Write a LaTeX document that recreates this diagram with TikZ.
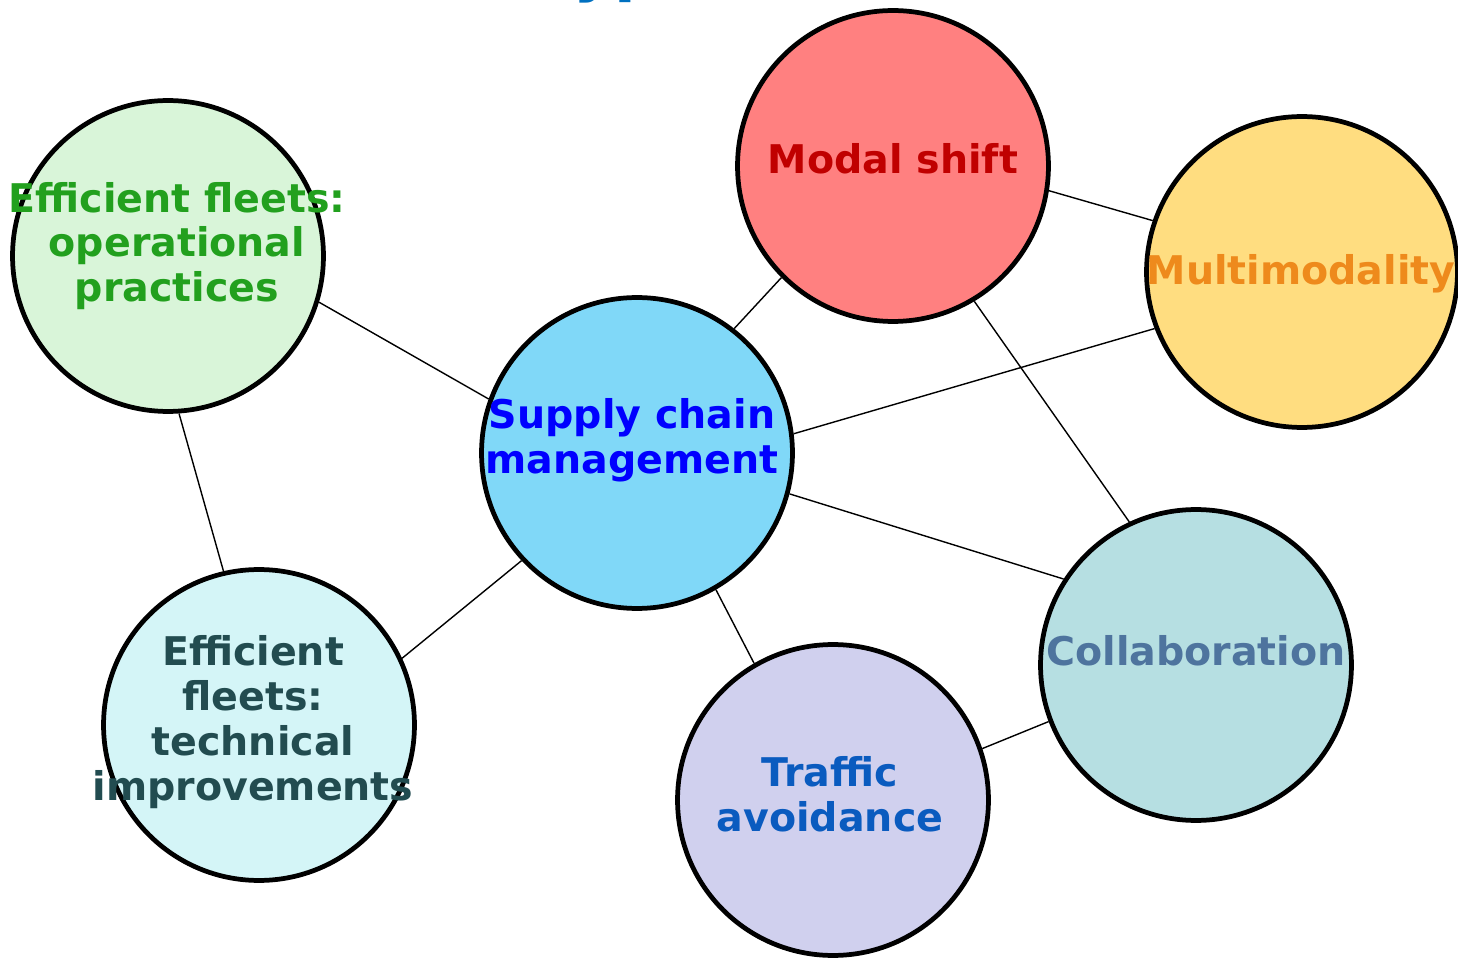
\documentclass[tikz,border=0pt]{standalone}
\usepackage{fontspec}
\setmainfont{DejaVu Sans}
\usepackage{xcolor}
\usepackage{tikz}
\definecolor{titleblue}{HTML}{0070C0}
\definecolor{scmfill}{HTML}{80D8F8}
\definecolor{scmtext}{HTML}{0000FF}
\definecolor{modfill}{HTML}{FF8080}
\definecolor{modtext}{HTML}{C00000}
\definecolor{mmfill}{HTML}{FFDD80}
\definecolor{mmtext}{HTML}{EE8A1C}
\definecolor{opfill}{HTML}{D9F5D9}
\definecolor{optext}{HTML}{22A01E}
\definecolor{techfill}{HTML}{D4F5F7}
\definecolor{techtext}{HTML}{224C50}
\definecolor{trafill}{HTML}{D0D0EE}
\definecolor{tratext}{HTML}{0A5BBF}
\definecolor{colfill}{HTML}{B6DFE2}
\definecolor{coltext}{HTML}{4E749E}
\tikzset{
  bub/.style={circle,draw=black,line width=2.7pt,minimum size=6.22cm,inner sep=0pt},
  lbl/.style={font=\bfseries\fontsize{22.5}{25.5}\selectfont,align=center,inner sep=0pt},
  ln/.style={black,line width=0.8pt},
  ttl/.style={font=\bfseries\fontsize{36}{40}\selectfont,text=titleblue,inner sep=0pt}
}
\begin{document}
\begin{tikzpicture}[x=0.02cm,y=0.02cm]
\useasboundingbox (0,0) rectangle (1458,958);
\clip (0,0) rectangle (1458,958);
\node[ttl,anchor=base west] (title) at (537,968) {Types of measures};
% bubbles
\node[bub,fill=scmfill] (scm) at (637,505) {};
\node[bub,fill=modfill] (modal) at (893,792) {};
\node[bub,fill=mmfill] (multi) at (1302,686) {};
\node[bub,fill=opfill] (fleetop) at (168,702) {};
\node[bub,fill=techfill] (fleettech) at (259,233) {};
\node[bub,fill=trafill] (traffic) at (833,158) {};
\node[bub,fill=colfill] (collab) at (1196,293) {};
% links
\draw[ln] (fleetop.-17.6) -- (scm.160.8);
\draw[ln] (fleetop.-86.4) -- (fleettech.103.3);
\draw[ln] (scm.-137.4) -- (fleettech.25.4);
\draw[ln] (scm.52.7) -- (modal.-135.8);
\draw[ln] (modal.-9) -- (multi.161.4);
\draw[ln] (scm.7) -- (multi.-159.3);
\draw[ln] (modal.-59.5) -- (collab.115.8);
\draw[ln] (scm.-15.6) -- (collab.147.5);
\draw[ln] (scm.-60.4) -- (traffic.120.5);
\draw[ln] (traffic.19.6) -- (collab.-159.2);
% texts
\node[lbl,text=scmtext] (scm-t) at (632,518) {Supply chain\\management};
\node[lbl,text=modtext] (modal-t) at (893,799) {Modal shift};
\node[lbl,text=mmtext] (multi-t) at (1301,684) {Multimodality};
\node[lbl,text=optext] (fleetop-t) at (177,712) {Efficient fleets:\\operational\\practices};
\node[lbl,text=techtext] (fleettech-t) at (253,236) {Efficient\\fleets:\\technical\\improvements};
\node[lbl,text=tratext] (traffic-t) at (830,164) {Traffic\\avoidance};
\node[lbl,text=coltext] (collab-t) at (1196,307) {Collaboration};
\end{tikzpicture}
\end{document}
